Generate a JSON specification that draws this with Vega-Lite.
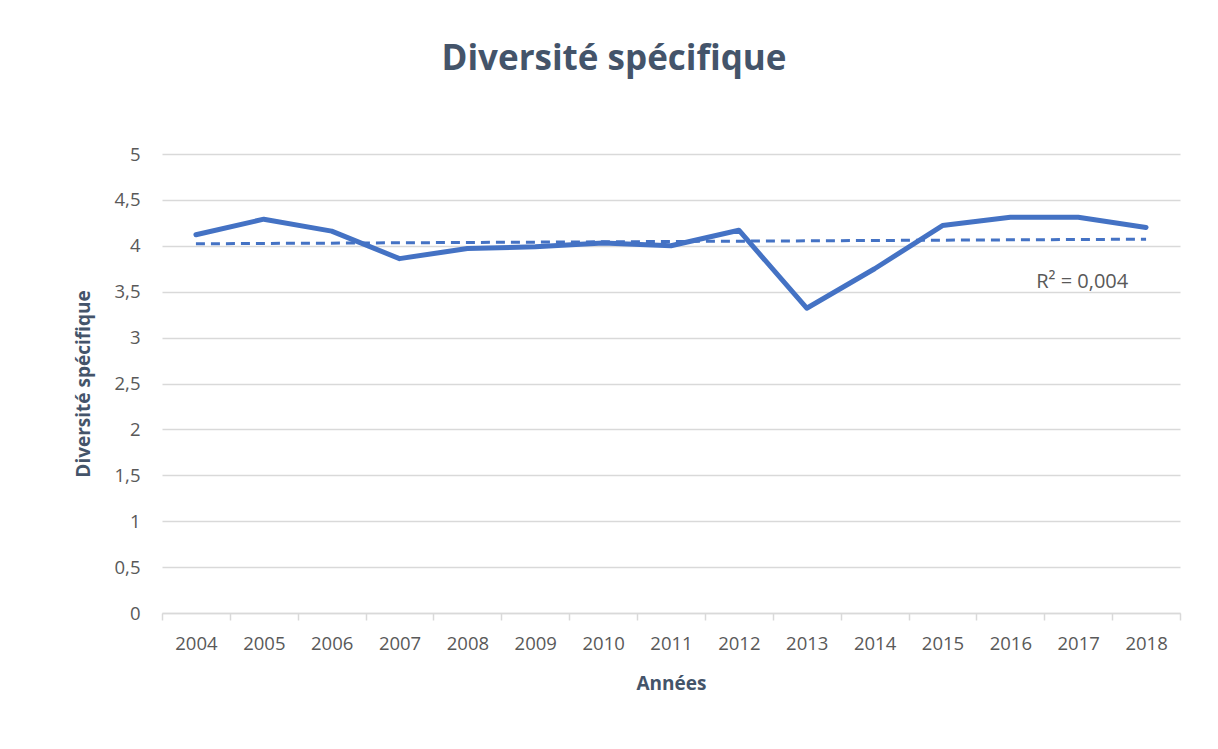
{
  "$schema": "https://vega.github.io/schema/vega-lite/v6.json",
  "autosize": {"type": "none"},
  "width": 1018,
  "height": 459,
  "padding": {"left": 162, "top": 154, "right": 38, "bottom": 136},
  "background": "white",
  "title": {
    "text": "Diversité spécifique",
    "anchor": "middle",
    "dx": -57,
    "offset": 68,
    "font": "Open Sans",
    "fontSize": 35,
    "fontWeight": "bold",
    "color": "#44546A"
  },
  "datasets": {
    "mesures": [
      {"annee": "2004", "diversite": 4.12},
      {"annee": "2005", "diversite": 4.29},
      {"annee": "2006", "diversite": 4.16},
      {"annee": "2007", "diversite": 3.86},
      {"annee": "2008", "diversite": 3.97},
      {"annee": "2009", "diversite": 3.99},
      {"annee": "2010", "diversite": 4.03},
      {"annee": "2011", "diversite": 4.0},
      {"annee": "2012", "diversite": 4.17},
      {"annee": "2013", "diversite": 3.32},
      {"annee": "2014", "diversite": 3.75},
      {"annee": "2015", "diversite": 4.22},
      {"annee": "2016", "diversite": 4.31},
      {"annee": "2017", "diversite": 4.31},
      {"annee": "2018", "diversite": 4.2}
    ],
    "tendance": [
      {"annee": "2004", "diversite": 4.022},
      {"annee": "2018", "diversite": 4.072}
    ],
    "note": [
      {"annee": "2017", "diversite": 3.61, "texte": "R² = 0,004"}
    ]
  },
  "config": {
    "view": {"stroke": null},
    "font": "Open Sans"
  },
  "encoding": {
    "x": {
      "field": "annee",
      "type": "ordinal",
      "title": "Années",
      "scale": {"paddingInner": 0, "paddingOuter": 0},
      "axis": {
        "labelAngle": 0,
        "labelFont": "Open Sans",
        "labelFontSize": 18.5,
        "labelColor": "#595959",
        "labelPadding": 14,
        "tickBand": "extent",
        "tickColor": "#D9D9D9",
        "tickSize": 7,
        "tickWidth": 1.5,
        "domainColor": "#D9D9D9",
        "domainWidth": 1.5,
        "grid": false,
        "titleFont": "Open Sans",
        "titleFontSize": 19,
        "titleFontWeight": "bold",
        "titleColor": "#44546A",
        "titlePadding": 22
      }
    },
    "y": {
      "field": "diversite",
      "type": "quantitative",
      "title": "Diversité spécifique",
      "scale": {"domain": [0, 5], "nice": false},
      "axis": {
        "values": [0, 0.5, 1, 1.5, 2, 2.5, 3, 3.5, 4, 4.5, 5],
        "labelExpr": "replace(format(datum.value, '.1~f'), '.', ',')",
        "labelFont": "Open Sans",
        "labelFontSize": 18.5,
        "labelColor": "#595959",
        "labelPadding": 22,
        "ticks": false,
        "domain": false,
        "grid": true,
        "gridColor": "#D9D9D9",
        "gridWidth": 1.5,
        "titleFont": "Open Sans",
        "titleFontSize": 19,
        "titleFontWeight": "bold",
        "titleColor": "#44546A",
        "titlePadding": 21
      }
    }
  },
  "layer": [
    {
      "data": {"name": "tendance"},
      "mark": {"type": "line", "color": "#4472C4", "strokeWidth": 3, "strokeDash": [9, 6]}
    },
    {
      "data": {"name": "mesures"},
      "mark": {"type": "line", "color": "#4472C4", "strokeWidth": 5, "strokeJoin": "round", "strokeCap": "round"}
    },
    {
      "data": {"name": "note"},
      "mark": {"type": "text", "font": "Open Sans", "fontSize": 20, "color": "#595959", "dx": 4, "align": "center", "baseline": "middle"},
      "encoding": {"text": {"field": "texte"}}
    }
  ]
}
